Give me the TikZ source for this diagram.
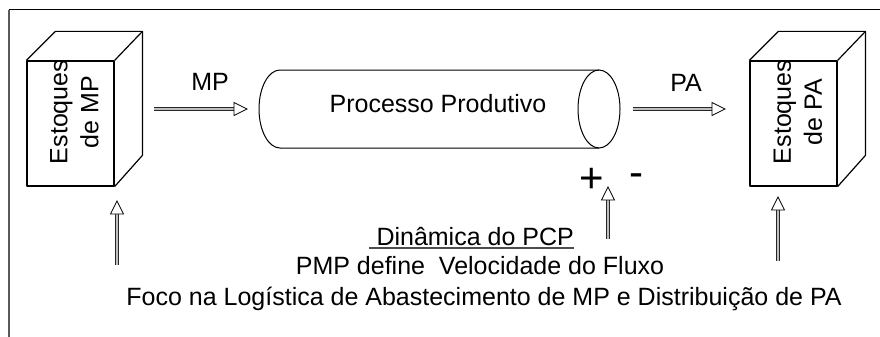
\documentclass[tikz,border=0pt]{standalone}
\usepackage{fontspec}
\setmainfont{Liberation Sans}
\usetikzlibrary{calc}
\tikzset{
  boxline/.style={draw=black, line width=1.2pt, line join=round},
  front/.style={boxline, rectangle, minimum width=87pt, minimum height=125pt, inner sep=0pt},
  cyl/.style={draw=black, line width=1pt},
  lbl/.style={font=\fontsize{25}{31}\selectfont, inner sep=0pt},
  shaft/.style={draw=black!85, line width=0.7pt, double=gray!50, double distance=1.8pt},
  headtip/.style={draw=black, fill=white, line width=0.8pt, line join=miter},
  sign/.style={font=\fontsize{42}{42}\selectfont, inner sep=0pt, anchor=base},
}
\newcommand\flowarr[2]{%
  \coordinate (#2-b) at ($(#2)!13pt!(#1)$);
  \draw[shaft] (#1) -- (#2-b);
  \draw[headtip] (#2) -- ($(#2-b)!6.5pt!90:(#2)$) -- ($(#2-b)!6.5pt!-90:(#2)$) -- cycle;}
\begin{document}
\begin{tikzpicture}[x=1pt, y=-1pt]
\useasboundingbox (0,0) rectangle (880,337);
% frame
\coordinate (f1) at (9,337);
\coordinate (f2) at (9,10);
\coordinate (f3) at (880,10);
\draw[gray!70!black, line width=1.4pt] (f1) -- (f2);
\draw[black, line width=1pt] (f2) -- (f3);
% left box (MP)
\node[front] (mpbox) at (70.5,123.5) {};
\draw[boxline] (mpbox.north west) -- ++(29,-29) -- ++(87,0) coordinate (mpbk) -- (mpbox.north east);
\draw[boxline] (mpbk) -- ++(0,124) -- (mpbox.south east);
\node[lbl, rotate=90, align=center] (mptext) at (74.5,112) {Estoques\\de MP};
% right box (PA)
\node[front] (pabox) at (793.5,123.5) {};
\draw[boxline] (pabox.north west) -- ++(29,-29) -- ++(87,0) coordinate (pabk) -- (pabox.north east);
\draw[boxline] (pabk) -- ++(0,124) -- (pabox.south east);
\node[lbl, rotate=90, align=center] (patext) at (798,112) {Estoques\\de PA};
% cylinder
\draw[cyl] (599,70) -- (280,70) arc[start angle=90, end angle=270, x radius=21pt, y radius=39pt] -- (599,148);
\draw[cyl] (599,109) ellipse [x radius=21pt, y radius=39pt];
\node[lbl, anchor=base] (proc) at (438,112) {Processo Produtivo};
% labels
\node[lbl, anchor=base] (mp) at (210,90) {MP};
\node[lbl, anchor=base] (pa) at (686,91) {PA};
\node[sign] (plus) at (592,192) {+};
\node[sign] (minus) at (636,186) {-};
% bottom texts
\node[lbl, anchor=base east] (dyn) at (574,245) {\ Dinâmica do PCP};
\draw[black!70, line width=1.3pt] ([yshift=-3pt]dyn.base west) -- ([yshift=-3pt]dyn.base east);
\node[lbl, anchor=base] (pmp) at (480,274) {PMP define~ Velocidade do Fluxo};
\node[lbl, anchor=base] (foco) at (484,305) {Foco na Logística de Abastecimento de MP e Distribuição de PA};
% arrows
\coordinate (a1s) at (154,109); \coordinate (a1t) at (247,109);
\coordinate (a2s) at (633,109); \coordinate (a2t) at (725,109);
\coordinate (a3s) at (117,265); \coordinate (a3t) at (117,201);
\coordinate (a4s) at (608,239); \coordinate (a4t) at (608,187);
\coordinate (a5s) at (778,261); \coordinate (a5t) at (778,197);
\flowarr{a1s}{a1t}
\flowarr{a2s}{a2t}
\flowarr{a3s}{a3t}
\flowarr{a4s}{a4t}
\flowarr{a5s}{a5t}
\end{tikzpicture}
\end{document}
